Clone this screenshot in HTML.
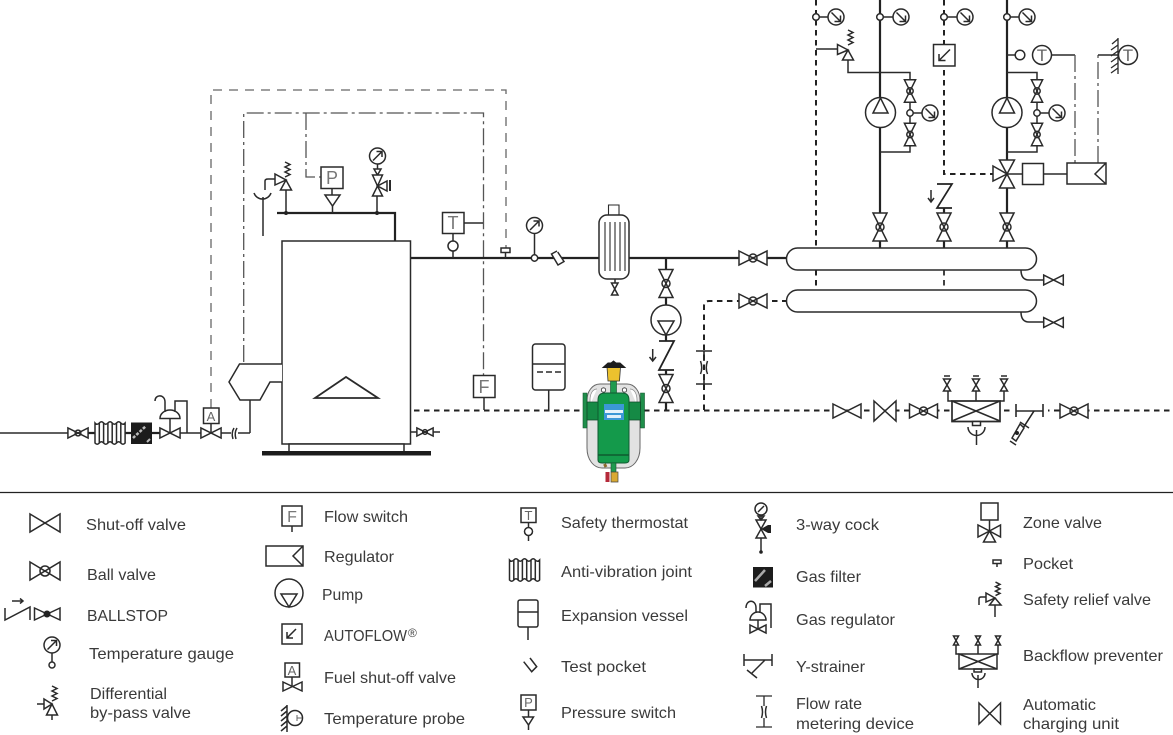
<!DOCTYPE html>
<html><head><meta charset="utf-8"><style>
html,body{margin:0;padding:0;background:#fff;width:1173px;height:735px;overflow:hidden}
svg{display:block;filter:blur(.3px)}
svg *{vector-effect:non-scaling-stroke}
.l{fill:none;stroke:#2a2a2a;stroke-width:1.5}
.t{fill:none;stroke:#222;stroke-width:2.2}
.dk{fill:none;stroke:#222;stroke-width:2;stroke-dasharray:5.5 4.5}
.o{fill:none;stroke:#666;stroke-width:1.3;stroke-dasharray:9 7}
.dd{fill:none;stroke:#555;stroke-width:1.3;stroke-dasharray:17 4 3 4}
.w{fill:#fff;stroke:#2a2a2a;stroke-width:1.5}
.f{fill:#222;stroke:none}
text{font-family:"Liberation Sans",sans-serif}
.x{font-size:16px;fill:#3a3a3a}
.b{font-size:18px;fill:#777;text-anchor:middle}
.s{font-size:13px;fill:#666;text-anchor:middle}
</style></head><body>
<svg width="1173" height="735" viewBox="0 0 1173 735" xmlns="http://www.w3.org/2000/svg">
<defs>
<g id="v"><polygon class="w" points="-14,-7 14,7 14,-7 -14,7"/></g>
<g id="bv"><polygon class="w" points="-14,-7 14,7 14,-7 -14,7"/><circle class="l" r="4"/></g>
<g id="g1"><circle class="w" r="8"/><path class="l" d="M-4.5,-4.5L4.5,4.5M4.5,-1.5V4.5H-1.5"/></g>
<g id="g2"><circle class="w" r="8"/><path class="l" d="M-4.5,4.5L4.5,-4.5M-1,-4.5H4.5V1"/></g>
<g id="aj"><path class="w" d="M-15,-10q2.1,2.4 4.3,0t4.3,0t4.3,0t4.3,0t4.3,0t4.3,0t4.3,0V10q-2.1,2.4 -4.3,0t-4.3,0t-4.3,0t-4.3,0t-4.3,0t-4.3,0t-4.3,0Z"/><path class="l" d="M-10.7,-10V10M-6.4,-10V10M-2.1,-10V10M2.2,-10V10M6.5,-10V10M10.8,-10V10"/></g>
<g id="sp"><path class="l" d="M0,14L5,11.5L0,9L5,6.5L0,4L5,1.5L0,-1"/></g>
</defs>

<!-- boiler control lines -->
<path class="o" d="M211,408V90H506V248"/>
<path class="dd" d="M243.7,362V113H483.5V375"/>
<path class="dd" d="M306,113V177H321"/>
<path d="M464,223H483" class="l" stroke="#555"/>

<!-- main pipes -->
<path class="t" d="M277,213H395V241"/>
<path class="t" d="M410,258H599M629,258H786"/>
<path class="l" d="M286,190V213M377,196V213M332,188V195M263,197V236"/>
<circle class="f" cx="286" cy="213" r="2"/><circle class="f" cx="377" cy="213" r="2"/>

<!-- boiler -->
<rect class="w" x="282" y="241" width="128.500" height="203"/>
<polygon class="l" style="stroke-width:1.8" points="315,398 346,377 378,398"/>
<rect class="w" x="289" y="444" width="115" height="8"/>
<rect x="262" y="451" width="169" height="4.500" fill="#1c1c1c"/>

<!-- burner -->
<path class="w" d="M282,364H239.500L229,382L240,400H260L270,382H282"/>
<path class="l" d="M250,400V433"/>

<!-- gas line -->
<path class="l" d="M0,433H68"/>
<path class="t" d="M87,433H95M125,433H131M152,433H160"/>
<path class="l" d="M180,433H201M221,433H231M238,433H250"/>
<g transform="translate(78,433) scale(.72)"><use href="#bv"/></g>
<use href="#aj" x="110" y="433"/>
<rect x="131" y="422.500" width="21" height="21.500" fill="#1c1c1c"/>
<path d="M133,438L146,426" stroke="#bbb" stroke-width="2.500" stroke-dasharray="3 1.500" fill="none"/>
<path d="M147,442L150,439" stroke="#bbb" stroke-width="2" fill="none"/>
<g transform="translate(170,433) scale(.72)"><use href="#v"/></g>
<path class="l" d="M170,433V418M160,418.500A10,8.500 0 0 1 180,418.500ZM155,401C155,394 165,394 165,402V412M175,412V401H187V433"/>
<g transform="translate(211,433) scale(.72)"><use href="#v"/></g>
<path class="l" d="M211,423V433"/>
<rect class="w" x="203.500" y="408" width="15.500" height="15.500"/>
<text class="s" x="211" y="421">A</text>
<path class="l" d="M234,428Q231,433 233,439M237,428Q234,433 236,439" />
<!-- boiler drain -->
<path class="l" d="M410,432H417M433,432H440"/>
<g transform="translate(425,432) scale(.58)"><use href="#bv"/></g>

<!-- safety relief -->
<use href="#sp" x="285" y="163"/>
<polygon class="w" points="275,174 275,185 286,180"/>
<polygon class="w" points="286,180 280.500,190 291.500,190"/>
<path class="l" d="M254,193A9,9 0 0 0 271,193M265,190V181Q265,179 268,179H275"/>
<!-- pressure switch -->
<rect class="w" x="321" y="167" width="22" height="21.500"/>
<text class="b" x="332" y="184">P</text>
<polygon class="w" points="325,195 340,195 332.500,206"/>
<path class="l" d="M332.500,206V213"/>
<!-- 3 way cock -->
<use href="#g2" x="377.500" y="156"/>
<path class="l" d="M377.500,164V169"/>
<polygon class="w" points="374,169 381,169 377.500,175"/>
<polygon class="w" points="372.500,175 382.500,175 377.500,186"/>
<polygon class="w" points="372.500,196 382.500,196 377.500,186"/>
<polygon class="w" points="377.500,186 387,181 387,191"/>
<path class="l" d="M390,180V191" style="stroke-width:2"/>

<!-- thermostat -->
<rect class="w" x="442.500" y="212.500" width="21.500" height="21"/>
<text class="b" x="453" y="229">T</text>
<path class="l" d="M453,233V241M453,251V258"/>
<circle class="w" cx="453" cy="246" r="5"/>
<!-- pocket -->
<path class="l" d="M505.500,252V258"/>
<rect class="w" x="501" y="248" width="9" height="4.500"/>
<!-- gauge -->
<use href="#g2" x="534.500" y="225.500"/>
<path class="l" d="M534.500,233.500V255"/>
<circle class="w" cx="534.500" cy="258" r="3.200"/>
<!-- test pocket -->
<path class="w" d="M557,251L551.500,254L558,265L564,261.500L557.700,252"/>

<!-- heat exchanger -->
<rect class="w" x="599" y="215" width="30" height="64" rx="8"/>
<path class="l" d="M608.500,215V205H619V215M605,222V271M610,222V271M615,222V271M620,222V271M625,222V271" style="stroke-width:1.100"/>
<path class="l" d="M615,279V283"/>
<polygon class="w" points="611.500,283 618,283 611.500,295 618,295"/>

<!-- main valve branch -->
<use href="#bv" x="753" y="258" />
<path class="t" d="M666,258V269M666,298V305M666,335V341M666,370V374M666,403V411"/>
<g transform="translate(666,283.500) rotate(90)"><use href="#bv"/></g>
<circle class="w" cx="666" cy="320" r="15"/>
<polygon class="l" points="658,321 674,321 666,335"/>
<path class="t" d="M659,341H674L659,370H674" style="stroke-width:1.800"/>
<path class="l" d="M652.700,349V361M649.500,357L652.700,361L656,357"/>
<g transform="translate(666,388.500) rotate(90)"><use href="#bv"/></g>

<!-- lower return -->
<path class="dk" d="M704,410V306Q704,301 709,301H739"/>
<use href="#bv" x="753" y="301"/>
<path class="dk" d="M772,301H786"/>
<path class="l" d="M696,351H712M696,384H712M704,351V361M704,374V384" style="stroke-width:1.600"/>
<path class="l" d="M700.500,361Q703,368 700.500,374M707.500,361Q705,368 707.500,374"/>

<!-- return line dashed -->
<path class="dk" d="M414,410.500H1173"/>

<!-- flow switch -->
<path class="l" d="M484,397V410"/>
<rect class="w" x="473.500" y="375.500" width="21.500" height="22"/>
<text class="b" x="484" y="393">F</text>

<!-- expansion vessel -->
<rect class="w" x="532.500" y="344" width="32.500" height="46" rx="3"/>
<path class="l" d="M532.500,364H565"/>
<path class="l" d="M537,372H562" stroke-dasharray="6 3"/>
<path class="l" d="M548.700,390V410"/>

<!-- dirt separator -->
<path d="M600,384H627C635,384 640,392 640,400V448C640,460 633,468 625,468H602C594,468 587,460 587,448V400C587,392 592,384 600,384Z" fill="#e2e2e2" stroke="#666" stroke-width="1"/>
<path d="M597,389C592,389 590,395 590,400V405M630,389C635,389 637,395 637,400V405" fill="#fff" stroke="#888" stroke-width=".7"/>
<rect x="583" y="393" width="4" height="35" fill="#1f8f4b" stroke="#12552d" stroke-width=".6"/>
<rect x="640.500" y="393" width="4" height="35" fill="#1f8f4b" stroke="#12552d" stroke-width=".6"/>
<rect x="587" y="402" width="12" height="18" fill="#158a45" stroke="#0f4a28" stroke-width=".8"/>
<rect x="628.500" y="402" width="12" height="18" fill="#158a45" stroke="#0f4a28" stroke-width=".8"/>
<rect x="610.500" y="381" width="6" height="14" fill="#1f9a4f" stroke="#15522f" stroke-width=".6"/>
<circle cx="603.500" cy="390" r="2.200" fill="#fff" stroke="#333" stroke-width=".8"/>
<circle cx="624.500" cy="390" r="2.200" fill="#fff" stroke="#333" stroke-width=".8"/>
<path d="M598,400Q598,393 605,393H622Q629,393 629,400V460Q629,463 625,463H602Q598,463 598,460Z" fill="#149a4b" stroke="#0f5a30" stroke-width="1"/>
<path d="M598,455H629" stroke="#0f5a30" stroke-width="1.500"/>
<rect x="604" y="404" width="20" height="16" fill="#3b98d6"/>
<rect x="605" y="410" width="18" height="3" fill="#e6f3fb"/>
<rect x="607" y="415" width="14" height="3" fill="#dff0fa"/>
<path d="M607,367H620.500L619.500,381H608Z" fill="#ecc22e" stroke="#333" stroke-width=".8"/>
<path d="M603,367.500H625L620,363H616L613.500,361L611,363H608Z" fill="#1d1d1d" stroke="#1d1d1d"/>
<rect x="611" y="463" width="5" height="9" fill="#1f9a4f" stroke="#15522f" stroke-width=".6"/>
<rect x="611" y="472" width="7" height="10" fill="#d9a932" stroke="#444" stroke-width=".7"/>
<rect x="605.500" y="472" width="4" height="10" fill="#b52a3a"/>
<path d="M604.500,464L606,467" stroke="#8a6a2c" stroke-width="3"/>

<!-- right vertical lines -->
<path class="dk" d="M816,0V248M816,270V290"/>
<path class="t" d="M880,0V248"/>
<path class="dk" d="M944,0V174H993"/>
<path class="dk" d="M944,270V290" style="stroke-width:1.700"/>
<path class="t" d="M944,208V213M944,241V248"/>
<path class="t" d="M1007,0V248"/>

<!-- gauges top -->
<path class="l" d="M816,17H828M880,17H893M944,17H957M1007,17H1019"/>
<circle class="w" cx="816" cy="17" r="3.300"/><use href="#g1" x="836" y="17"/>
<circle class="w" cx="880" cy="17" r="3.300"/><use href="#g1" x="901" y="17"/>
<circle class="w" cx="944" cy="17" r="3.300"/><use href="#g1" x="965" y="17"/>
<circle class="w" cx="1007" cy="17" r="3.300"/><use href="#g1" x="1027" y="17"/>

<!-- diff bypass -->
<path class="l" d="M816,49H838"/>
<use href="#sp" x="848" y="31"/>
<polygon class="w" points="837.500,44.500 837.500,54.500 848,50"/>
<polygon class="w" points="848,50 842.500,60 853.500,60"/>
<path class="l" d="M848,60V72.500H910V152H880" />
<g transform="translate(910,91) rotate(90) scale(.8)"><use href="#bv"/></g>
<g transform="translate(910,134.500) rotate(90) scale(.8)"><use href="#bv"/></g>
<path class="l" d="M913,113H922"/>
<circle class="w" cx="910" cy="113" r="3.200"/>
<use href="#g1" x="930" y="113"/>

<!-- pump 1 -->
<circle class="w" cx="880.500" cy="112.500" r="15"/>
<polygon class="l" points="880.500,98 873,113 888,113"/>

<!-- autoflow -->
<rect class="w" x="933.500" y="44.500" width="21.500" height="21.500"/>
<path class="l" d="M950,49.500L939,60.500M939,54V60.500H945.500"/>

<!-- check valve upper -->
<path class="t" d="M937,184H952L937,208H952" style="stroke-width:1.700"/>
<path class="l" d="M931,190V202M928,198L931,202L934,198"/>

<!-- main valves -->
<g transform="translate(880,227) rotate(90)"><use href="#bv"/></g>
<g transform="translate(944,227) rotate(90)"><use href="#bv"/></g>
<g transform="translate(1007,227) rotate(90)"><use href="#bv"/></g>

<!-- pump 2 circuit -->
<path class="l" d="M1007,72.500H1037V152H1007"/>
<g transform="translate(1037,91) rotate(90) scale(.8)"><use href="#bv"/></g>
<g transform="translate(1037,134.500) rotate(90) scale(.8)"><use href="#bv"/></g>
<path class="l" d="M1040,113H1049"/>
<circle class="w" cx="1037" cy="113" r="3.200"/>
<use href="#g1" x="1057" y="113"/>
<circle class="w" cx="1007" cy="112.500" r="15"/>
<polygon class="l" points="1007,98 999.500,113 1014.500,113"/>

<!-- sensor -->
<path class="l" d="M1007,55H1015"/>
<circle class="w" cx="1020" cy="55" r="4.800"/>
<circle class="w" cx="1042" cy="55" r="9.500"/>
<text class="s" x="1042" y="61" style="font-size:17px">T</text>
<path class="l" d="M1052,55H1075" stroke="#555"/>
<path class="dd" d="M1075,55V163"/>
<path class="dd" d="M1098,163V55"/>
<path class="l" d="M1098,55H1118"/>
<path class="l" d="M1118,38V74M1112,44L1118,39M1111,50L1118,45M1111,56L1118,51M1111,62L1118,57M1111,68L1118,63M1111,73L1118,68" style="stroke-width:1.300"/>
<circle class="w" cx="1128" cy="55" r="9.500"/>
<text class="s" x="1128" y="61" style="font-size:17px">T</text>

<!-- three way -->
<path class="l" d="M1007,174H1022M1044,174H1067"/>
<polygon class="w" points="999.500,160 1014.500,160 1007,174"/>
<polygon class="w" points="999.500,188 1014.500,188 1007,174"/>
<polygon class="w" points="993,166 993,181 1007,174"/>
<rect class="w" x="1022.500" y="163.500" width="21" height="21"/>
<rect class="w" x="1067" y="163" width="39" height="21"/>
<path class="l" d="M1106,163L1095,174L1106,184"/>

<!-- headers -->
<rect class="w" x="786.500" y="248" width="250" height="22" rx="11"/>
<rect class="w" x="786.500" y="290" width="250" height="22" rx="11"/>
<path class="l" d="M1021,270Q1021,280 1029,280H1044M1021,312Q1021,322 1029,322H1044"/>
<g transform="translate(1053.500,280) scale(.7)"><use href="#v"/></g>
<g transform="translate(1053.500,322.500) scale(.7)"><use href="#v"/></g>

<!-- bottom line equipment -->
<use href="#v" x="847" y="411"/>
<polygon class="w" points="874,401 896,421 896,401 874,421"/>
<use href="#bv" x="923.500" y="411"/>
<rect class="w" x="952" y="401" width="48" height="20.500" style="stroke-width:1.700"/>
<path class="l" d="M952,401L1000,421M1000,401L952,421"/>
<path class="l" d="M948,391V401H952M976,391V401M1004,391V401H1000"/>
<polygon class="w" points="943.500,379 950.500,379 943.500,391 950.500,391"/>
<polygon class="w" points="972.500,379 979.500,379 972.500,391 979.500,391"/>
<polygon class="w" points="1000.500,379 1007.500,379 1000.500,391 1007.500,391"/>
<path class="l" d="M944,376H950M973,376H979M1001,376H1007"/>
<rect class="w" x="972.500" y="421.500" width="8" height="4"/>
<path class="l" d="M968,427A8.500,8.500 0 0 0 985,427M976.500,430V445"/>
<!-- strainer -->
<rect x="1011" y="406" width="37" height="10" fill="#fff"/>
<path class="l" d="M1016,404V417M1043,404V417M1016,411H1043" style="stroke-width:1.600"/>
<path class="t" d="M1034,411L1016,439" style="stroke-width:1.600"/>
<path class="l" d="M1020,422L1029,428"/>
<polygon class="w" points="1020,424 1012,438 1016,441 1024,428" />
<circle class="f" cx="1017" cy="433" r="2"/>
<path class="l" d="M1010,441L1016,445"/>
<use href="#bv" x="1074" y="411"/>

<!-- divider -->
<path d="M0,492.500H1173" stroke="#222" stroke-width="1.300"/>

<!-- LEGEND column 1 -->
<polygon class="w" points="30,514 60,532 60,514 30,532"/>
<polygon class="w" points="30,562 60,580 60,562 30,580"/><circle class="l" cx="45" cy="571" r="5"/>
<path class="l" d="M5,608V620L30,607V620M12,601H23M20,598.500L23,601L20,603.500"/>
<polygon class="w" points="34.500,608 60,620 60,608 34.500,620"/><circle class="f" cx="47" cy="614" r="3.500"/>
<use href="#g2" x="52" y="645"/>
<path class="l" d="M52,653V662"/><circle class="l" cx="52" cy="665" r="3"/>
<use href="#sp" x="52" y="687"/>
<path class="l" d="M37,704H44M52,715V720"/>
<polygon class="w" points="44,699 44,709 52,704"/>
<polygon class="w" points="52,704 46.500,715 57.500,715"/>
<text class="x" x="86" y="530" textLength="100" lengthAdjust="spacingAndGlyphs">Shut-off valve</text>
<text class="x" x="87" y="580" textLength="69" lengthAdjust="spacingAndGlyphs">Ball valve</text>
<text class="x" x="87" y="621" textLength="81" lengthAdjust="spacingAndGlyphs">BALLSTOP</text>
<text class="x" x="89" y="659" textLength="145" lengthAdjust="spacingAndGlyphs">Temperature gauge</text>
<text class="x" x="90" y="699" textLength="77" lengthAdjust="spacingAndGlyphs">Differential</text>
<text class="x" x="90" y="718" textLength="101" lengthAdjust="spacingAndGlyphs">by-pass valve</text>

<!-- column 2 -->
<rect class="w" x="282" y="506" width="20" height="20"/><text class="b" x="292" y="522" style="font-size:16px">F</text>
<path class="l" d="M292,526V532"/>
<rect class="w" x="266" y="546" width="37" height="20"/><path class="l" d="M303,546L293,556L303,566"/>
<circle class="w" cx="289" cy="593" r="14"/><polygon class="l" points="281,594 297,594 289,607"/>
<rect class="w" x="282" y="624" width="20" height="20"/><path class="l" d="M296,629L287,638M287,632V638H293"/>
<rect class="w" x="285" y="663" width="14.500" height="14"/><text class="s" x="292" y="675">A</text>
<path class="l" d="M292,677V686"/><polygon class="w" points="283,682 302,691 302,682 283,691"/>
<path class="l" d="M287,705V732M281,711L287,706M281,716L287,711M281,721L287,716M281,726L287,721M281,731L287,726"/>
<circle class="w" cx="295" cy="718" r="7.500"/><path class="l" d="M297,718H302M297,715V721" style="stroke:#666;stroke-width:1"/>
<text class="x" x="324" y="522" textLength="84" lengthAdjust="spacingAndGlyphs">Flow switch</text>
<text class="x" x="324" y="562" textLength="70" lengthAdjust="spacingAndGlyphs">Regulator</text>
<text class="x" x="322" y="600" textLength="41" lengthAdjust="spacingAndGlyphs">Pump</text>
<text class="x" x="324" y="641" textLength="83" lengthAdjust="spacingAndGlyphs">AUTOFLOW</text><text x="408" y="637" style="font-size:12px;fill:#444">®</text>
<text class="x" x="324" y="683" textLength="132" lengthAdjust="spacingAndGlyphs">Fuel shut-off valve</text>
<text class="x" x="324" y="724" textLength="141" lengthAdjust="spacingAndGlyphs">Temperature probe</text>

<!-- column 3 -->
<rect class="w" x="521" y="508" width="15" height="14.500"/><text class="s" x="528.500" y="520">T</text>
<path class="l" d="M528.500,522V527M528.500,536V541"/><circle class="l" cx="528.500" cy="531.500" r="4"/>
<use href="#aj" x="524.500" y="570"/>
<rect class="w" x="518" y="600" width="20" height="27" rx="2"/><path class="l" d="M518,612H538M528,627V640"/>
<path class="l" d="M530,658L536.700,666.700L531.700,671.700L523.700,661.700"/>
<rect class="w" x="521" y="695" width="15" height="15"/><text class="s" x="528.500" y="707">P</text>
<path class="l" d="M528.500,710V717M528.500,725V730"/><polygon class="l" points="523,717 533.500,717 528.500,725"/>
<text class="x" x="561" y="528" textLength="127" lengthAdjust="spacingAndGlyphs">Safety thermostat</text>
<text class="x" x="561" y="577" textLength="131" lengthAdjust="spacingAndGlyphs">Anti-vibration joint</text>
<text class="x" x="561" y="621" textLength="127" lengthAdjust="spacingAndGlyphs">Expansion vessel</text>
<text class="x" x="561" y="672" textLength="85" lengthAdjust="spacingAndGlyphs">Test pocket</text>
<text class="x" x="561" y="718" textLength="115" lengthAdjust="spacingAndGlyphs">Pressure switch</text>

<!-- column 4 -->
<circle class="w" cx="761" cy="509" r="6"/><path class="l" d="M758,512L764,506"/>
<path class="l" d="M761,515V520"/>
<polygon class="l" points="758,516 764,516 761,520"/>
<polygon class="l" points="756,520 766,520 761,529"/><polygon class="l" points="756,538 766,538 761,529"/>
<polygon class="f" points="761,529 768,525 771,525 771,533 768,533"/>
<path class="l" d="M761,538V552"/><circle class="f" cx="761" cy="552" r="1.800"/>
<rect x="753" y="567" width="20" height="20.500" fill="#1c1c1c"/>
<path d="M755,581L765,570M765,586L771,581" stroke="#aaa" stroke-width="2.500" fill="none"/>
<polygon class="w" points="750,625 766,633 766,625 750,633"/>
<path class="l" d="M758,629V620M750,620A8,8 0 0 1 766,620ZM746,608C746,599 756,599 756,608V613M760,613V604H771V628"/>
<path class="l" d="M744,654V666M772,654V666M744,660H772M765,660L752,673M747,670L757,678"/>
<path class="l" d="M756,696H772M756,727H772M764,696V706M764,718V727" style="stroke-width:1.300"/>
<path class="l" d="M761.500,706Q763.500,712 761.500,718M766.500,706Q764.500,712 766.500,718"/>
<text class="x" x="796" y="530" textLength="83" lengthAdjust="spacingAndGlyphs">3-way cock</text>
<text class="x" x="796" y="582" textLength="65" lengthAdjust="spacingAndGlyphs">Gas filter</text>
<text class="x" x="796" y="625" textLength="99" lengthAdjust="spacingAndGlyphs">Gas regulator</text>
<text class="x" x="796" y="672" textLength="69" lengthAdjust="spacingAndGlyphs">Y-strainer</text>
<text class="x" x="796" y="709" textLength="66" lengthAdjust="spacingAndGlyphs">Flow rate</text>
<text class="x" x="796" y="729" textLength="118" lengthAdjust="spacingAndGlyphs">metering device</text>

<!-- column 5 -->
<rect class="w" x="981" y="503" width="17" height="17"/>
<path class="l" d="M989.500,520V531"/>
<polygon class="l" points="978,525 978,537 989.500,531"/><polygon class="l" points="1000.500,525 1000.500,537 989.500,531"/>
<polygon class="l" points="983.500,542 995.500,542 989.500,531"/>
<rect class="l" x="993" y="560" width="8" height="3.500"/><path class="l" d="M997,563.500V567"/>
<g transform="translate(995.500,583) scale(.9)"><use href="#sp"/></g>
<polygon class="l" points="986,593 986,602 995,598"/><polygon class="l" points="995,598 989.500,605 1001,605"/>
<path class="l" d="M995,605V617M979,605V599Q979,597 981,597H986"/>
<rect class="l" x="959" y="654" width="38" height="15"/><path class="l" d="M959,654L997,669M997,654L959,669"/>
<path class="l" d="M956,645V654H959M978,645V654M998,645V654H997"/>
<polygon class="l" points="953.500,636 958.500,636 953.500,645 958.500,645"/>
<polygon class="l" points="975.500,636 980.500,636 975.500,645 980.500,645"/>
<polygon class="l" points="995.500,636 1000.500,636 995.500,645 1000.500,645"/>
<rect class="l" x="974" y="669" width="7.500" height="3"/>
<path class="l" d="M972,673A6.500,6.500 0 0 0 985,673M978,675V688"/>
<polygon class="w" points="979,703 1000.500,724 1000.500,703 979,724"/>
<text class="x" x="1023" y="528" textLength="79" lengthAdjust="spacingAndGlyphs">Zone valve</text>
<text class="x" x="1023" y="569" textLength="50" lengthAdjust="spacingAndGlyphs">Pocket</text>
<text class="x" x="1023" y="605" textLength="128" lengthAdjust="spacingAndGlyphs">Safety relief valve</text>
<text class="x" x="1023" y="661" textLength="140" lengthAdjust="spacingAndGlyphs">Backflow preventer</text>
<text class="x" x="1023" y="710" textLength="73" lengthAdjust="spacingAndGlyphs">Automatic</text>
<text class="x" x="1023" y="729" textLength="96" lengthAdjust="spacingAndGlyphs">charging unit</text>
</svg>
</body></html>
